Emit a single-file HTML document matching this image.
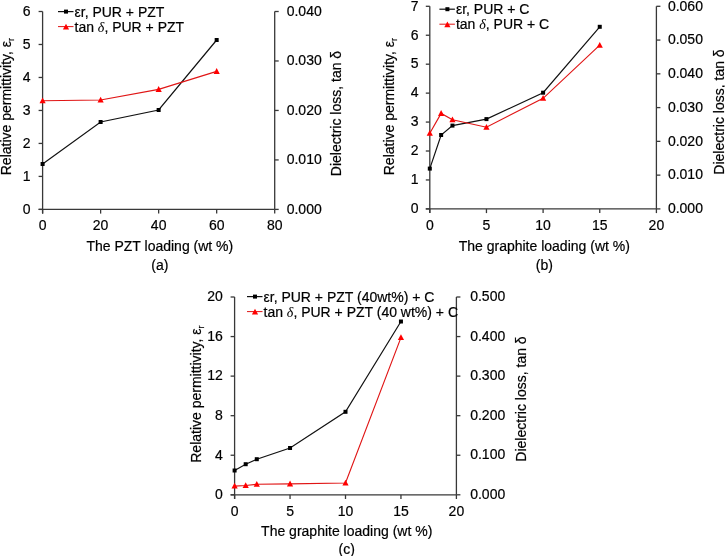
<!DOCTYPE html>
<html><head><meta charset="utf-8"><style>
html,body{margin:0;padding:0;background:#fff;}
svg{display:block;will-change:transform;}
text{font-family:"Liberation Sans", sans-serif;fill:#000;stroke:#000;stroke-width:0.2px;}
</style></head><body>
<svg width="725" height="556" viewBox="0 0 725 556">
<rect width="725" height="556" fill="#fff"/>
<line x1="42.60" y1="11.50" x2="42.60" y2="213.60" stroke="#383838" stroke-width="1.3"/>
<line x1="38.60" y1="209.40" x2="274.70" y2="209.40" stroke="#383838" stroke-width="1.3"/>
<line x1="274.70" y1="11.50" x2="274.70" y2="209.40" stroke="#383838" stroke-width="1.3"/>
<line x1="38.60" y1="209.40" x2="42.60" y2="209.40" stroke="#383838" stroke-width="1.3"/>
<text x="30.60" y="213.70" text-anchor="end" font-size="14" >0</text>
<line x1="38.60" y1="176.42" x2="42.60" y2="176.42" stroke="#383838" stroke-width="1.3"/>
<text x="30.60" y="180.72" text-anchor="end" font-size="14" >1</text>
<line x1="38.60" y1="143.43" x2="42.60" y2="143.43" stroke="#383838" stroke-width="1.3"/>
<text x="30.60" y="147.73" text-anchor="end" font-size="14" >2</text>
<line x1="38.60" y1="110.45" x2="42.60" y2="110.45" stroke="#383838" stroke-width="1.3"/>
<text x="30.60" y="114.75" text-anchor="end" font-size="14" >3</text>
<line x1="38.60" y1="77.47" x2="42.60" y2="77.47" stroke="#383838" stroke-width="1.3"/>
<text x="30.60" y="81.77" text-anchor="end" font-size="14" >4</text>
<line x1="38.60" y1="44.48" x2="42.60" y2="44.48" stroke="#383838" stroke-width="1.3"/>
<text x="30.60" y="48.78" text-anchor="end" font-size="14" >5</text>
<line x1="38.60" y1="11.50" x2="42.60" y2="11.50" stroke="#383838" stroke-width="1.3"/>
<text x="30.60" y="15.80" text-anchor="end" font-size="14" >6</text>
<line x1="274.70" y1="209.40" x2="278.70" y2="209.40" stroke="#383838" stroke-width="1.3"/>
<text x="286.70" y="213.60" text-anchor="start" font-size="14" >0.000</text>
<line x1="274.70" y1="159.93" x2="278.70" y2="159.93" stroke="#383838" stroke-width="1.3"/>
<text x="286.70" y="164.12" text-anchor="start" font-size="14" >0.010</text>
<line x1="274.70" y1="110.45" x2="278.70" y2="110.45" stroke="#383838" stroke-width="1.3"/>
<text x="286.70" y="114.65" text-anchor="start" font-size="14" >0.020</text>
<line x1="274.70" y1="60.97" x2="278.70" y2="60.97" stroke="#383838" stroke-width="1.3"/>
<text x="286.70" y="65.17" text-anchor="start" font-size="14" >0.030</text>
<line x1="274.70" y1="11.50" x2="278.70" y2="11.50" stroke="#383838" stroke-width="1.3"/>
<text x="286.70" y="15.70" text-anchor="start" font-size="14" >0.040</text>
<line x1="42.60" y1="209.40" x2="42.60" y2="213.60" stroke="#383838" stroke-width="1.3"/>
<text x="42.60" y="230.40" text-anchor="middle" font-size="14" >0</text>
<line x1="100.62" y1="209.40" x2="100.62" y2="213.60" stroke="#383838" stroke-width="1.3"/>
<text x="100.62" y="230.40" text-anchor="middle" font-size="14" >20</text>
<line x1="158.65" y1="209.40" x2="158.65" y2="213.60" stroke="#383838" stroke-width="1.3"/>
<text x="158.65" y="230.40" text-anchor="middle" font-size="14" >40</text>
<line x1="216.67" y1="209.40" x2="216.67" y2="213.60" stroke="#383838" stroke-width="1.3"/>
<text x="216.67" y="230.40" text-anchor="middle" font-size="14" >60</text>
<line x1="274.70" y1="209.40" x2="274.70" y2="213.60" stroke="#383838" stroke-width="1.3"/>
<text x="274.70" y="230.40" text-anchor="middle" font-size="14" >80</text>
<polyline points="42.60,164.00 100.62,122.00 158.65,110.00 216.67,40.00" fill="none" stroke="#111" stroke-width="1.2" stroke-linejoin="miter"/>
<polyline points="42.60,100.80 100.62,100.00 158.65,89.40 216.67,71.40" fill="none" stroke="#e01515" stroke-width="1.15" stroke-linejoin="miter"/>
<rect x="40.60" y="162.00" width="4" height="4" fill="#000"/>
<rect x="98.62" y="120.00" width="4" height="4" fill="#000"/>
<rect x="156.65" y="108.00" width="4" height="4" fill="#000"/>
<rect x="214.67" y="38.00" width="4" height="4" fill="#000"/>
<polygon points="42.60,97.50 45.70,103.30 39.50,103.30" fill="#ff0000"/>
<polygon points="100.62,96.70 103.72,102.50 97.53,102.50" fill="#ff0000"/>
<polygon points="158.65,86.10 161.75,91.90 155.55,91.90" fill="#ff0000"/>
<polygon points="216.67,68.10 219.77,73.90 213.57,73.90" fill="#ff0000"/>
<line x1="58.00" y1="11.60" x2="73.50" y2="11.60" stroke="#111" stroke-width="1.2"/>
<rect x="64.00" y="9.60" width="4" height="4" fill="#000"/>
<text x="74.50" y="16.60" text-anchor="start" font-size="14" >εr, PUR + PZT</text>
<line x1="58.00" y1="26.60" x2="73.50" y2="26.60" stroke="#e01515" stroke-width="1.0"/>
<polygon points="66.00,23.80 69.10,29.60 62.90,29.60" fill="#ff0000"/>
<text x="74.50" y="31.60" text-anchor="start" font-size="14" >tan <tspan font-family="Liberation Serif" font-style="italic" stroke-width="0.05">δ</tspan>, PUR + PZT</text>
<text transform="translate(11.10,106.50) rotate(-90)" text-anchor="middle" font-size="14">Relative permittivity, ε<tspan font-size="9.5" dy="3">r</tspan></text>
<text transform="translate(341.20,113.50) rotate(-90)" text-anchor="middle" font-size="14">Dielectric loss, tan δ</text>
<text x="159.85" y="250.50" text-anchor="middle" font-size="14" >The PZT loading (wt %)</text>
<text x="159.85" y="269.50" text-anchor="middle" font-size="14" >(a)</text>
<line x1="429.80" y1="6.30" x2="429.80" y2="213.10" stroke="#383838" stroke-width="1.3"/>
<line x1="425.80" y1="208.90" x2="656.40" y2="208.90" stroke="#383838" stroke-width="1.3"/>
<line x1="656.40" y1="6.30" x2="656.40" y2="208.90" stroke="#383838" stroke-width="1.3"/>
<line x1="425.80" y1="208.90" x2="429.80" y2="208.90" stroke="#383838" stroke-width="1.3"/>
<text x="418.60" y="213.20" text-anchor="end" font-size="14" >0</text>
<line x1="425.80" y1="179.96" x2="429.80" y2="179.96" stroke="#383838" stroke-width="1.3"/>
<text x="418.60" y="184.26" text-anchor="end" font-size="14" >1</text>
<line x1="425.80" y1="151.01" x2="429.80" y2="151.01" stroke="#383838" stroke-width="1.3"/>
<text x="418.60" y="155.31" text-anchor="end" font-size="14" >2</text>
<line x1="425.80" y1="122.07" x2="429.80" y2="122.07" stroke="#383838" stroke-width="1.3"/>
<text x="418.60" y="126.37" text-anchor="end" font-size="14" >3</text>
<line x1="425.80" y1="93.13" x2="429.80" y2="93.13" stroke="#383838" stroke-width="1.3"/>
<text x="418.60" y="97.43" text-anchor="end" font-size="14" >4</text>
<line x1="425.80" y1="64.19" x2="429.80" y2="64.19" stroke="#383838" stroke-width="1.3"/>
<text x="418.60" y="68.49" text-anchor="end" font-size="14" >5</text>
<line x1="425.80" y1="35.24" x2="429.80" y2="35.24" stroke="#383838" stroke-width="1.3"/>
<text x="418.60" y="39.54" text-anchor="end" font-size="14" >6</text>
<line x1="425.80" y1="6.30" x2="429.80" y2="6.30" stroke="#383838" stroke-width="1.3"/>
<text x="418.60" y="10.60" text-anchor="end" font-size="14" >7</text>
<line x1="656.40" y1="208.90" x2="660.40" y2="208.90" stroke="#383838" stroke-width="1.3"/>
<text x="667.90" y="213.10" text-anchor="start" font-size="14" >0.000</text>
<line x1="656.40" y1="175.13" x2="660.40" y2="175.13" stroke="#383838" stroke-width="1.3"/>
<text x="667.90" y="179.33" text-anchor="start" font-size="14" >0.010</text>
<line x1="656.40" y1="141.37" x2="660.40" y2="141.37" stroke="#383838" stroke-width="1.3"/>
<text x="667.90" y="145.57" text-anchor="start" font-size="14" >0.020</text>
<line x1="656.40" y1="107.60" x2="660.40" y2="107.60" stroke="#383838" stroke-width="1.3"/>
<text x="667.90" y="111.80" text-anchor="start" font-size="14" >0.030</text>
<line x1="656.40" y1="73.83" x2="660.40" y2="73.83" stroke="#383838" stroke-width="1.3"/>
<text x="667.90" y="78.03" text-anchor="start" font-size="14" >0.040</text>
<line x1="656.40" y1="40.07" x2="660.40" y2="40.07" stroke="#383838" stroke-width="1.3"/>
<text x="667.90" y="44.27" text-anchor="start" font-size="14" >0.050</text>
<line x1="656.40" y1="6.30" x2="660.40" y2="6.30" stroke="#383838" stroke-width="1.3"/>
<text x="667.90" y="10.50" text-anchor="start" font-size="14" >0.060</text>
<line x1="429.80" y1="208.90" x2="429.80" y2="213.10" stroke="#383838" stroke-width="1.3"/>
<text x="429.80" y="229.90" text-anchor="middle" font-size="14" >0</text>
<line x1="486.45" y1="208.90" x2="486.45" y2="213.10" stroke="#383838" stroke-width="1.3"/>
<text x="486.45" y="229.90" text-anchor="middle" font-size="14" >5</text>
<line x1="543.10" y1="208.90" x2="543.10" y2="213.10" stroke="#383838" stroke-width="1.3"/>
<text x="543.10" y="229.90" text-anchor="middle" font-size="14" >10</text>
<line x1="599.75" y1="208.90" x2="599.75" y2="213.10" stroke="#383838" stroke-width="1.3"/>
<text x="599.75" y="229.90" text-anchor="middle" font-size="14" >15</text>
<line x1="656.40" y1="208.90" x2="656.40" y2="213.10" stroke="#383838" stroke-width="1.3"/>
<text x="656.40" y="229.90" text-anchor="middle" font-size="14" >20</text>
<polyline points="429.80,168.60 441.13,135.00 452.46,125.60 486.45,119.10 543.10,92.70 599.75,26.80" fill="none" stroke="#111" stroke-width="1.2" stroke-linejoin="miter"/>
<polyline points="429.80,133.20 441.13,113.40 452.46,119.70 486.45,127.20 543.10,98.30 599.75,45.20" fill="none" stroke="#e01515" stroke-width="1.15" stroke-linejoin="miter"/>
<rect x="427.80" y="166.60" width="4" height="4" fill="#000"/>
<rect x="439.13" y="133.00" width="4" height="4" fill="#000"/>
<rect x="450.46" y="123.60" width="4" height="4" fill="#000"/>
<rect x="484.45" y="117.10" width="4" height="4" fill="#000"/>
<rect x="541.10" y="90.70" width="4" height="4" fill="#000"/>
<rect x="597.75" y="24.80" width="4" height="4" fill="#000"/>
<polygon points="429.80,129.90 432.90,135.70 426.70,135.70" fill="#ff0000"/>
<polygon points="441.13,110.10 444.23,115.90 438.03,115.90" fill="#ff0000"/>
<polygon points="452.46,116.40 455.56,122.20 449.36,122.20" fill="#ff0000"/>
<polygon points="486.45,123.90 489.55,129.70 483.35,129.70" fill="#ff0000"/>
<polygon points="543.10,95.00 546.20,100.80 540.00,100.80" fill="#ff0000"/>
<polygon points="599.75,41.90 602.85,47.70 596.65,47.70" fill="#ff0000"/>
<line x1="439.40" y1="9.20" x2="454.90" y2="9.20" stroke="#111" stroke-width="1.2"/>
<rect x="445.40" y="7.20" width="4" height="4" fill="#000"/>
<text x="455.90" y="14.20" text-anchor="start" font-size="14" >εr, PUR + C</text>
<line x1="439.40" y1="24.20" x2="454.90" y2="24.20" stroke="#e01515" stroke-width="1.0"/>
<polygon points="447.40,21.40 450.50,27.20 444.30,27.20" fill="#ff0000"/>
<text x="455.90" y="29.20" text-anchor="start" font-size="14" >tan <tspan font-family="Liberation Serif" font-style="italic" stroke-width="0.05">δ</tspan>, PUR + C</text>
<text transform="translate(394.00,106.50) rotate(-90)" text-anchor="middle" font-size="14">Relative permittivity, ε<tspan font-size="9.5" dy="3">r</tspan></text>
<text transform="translate(723.50,112.00) rotate(-90)" text-anchor="middle" font-size="14">Dielectric loss, tan δ</text>
<text x="544.30" y="250.50" text-anchor="middle" font-size="14" >The graphite loading (wt %)</text>
<text x="544.30" y="269.50" text-anchor="middle" font-size="14" >(b)</text>
<line x1="234.60" y1="297.00" x2="234.60" y2="499.00" stroke="#383838" stroke-width="1.3"/>
<line x1="230.60" y1="494.80" x2="456.40" y2="494.80" stroke="#383838" stroke-width="1.3"/>
<line x1="456.40" y1="297.00" x2="456.40" y2="494.80" stroke="#383838" stroke-width="1.3"/>
<line x1="230.60" y1="494.80" x2="234.60" y2="494.80" stroke="#383838" stroke-width="1.3"/>
<text x="222.80" y="499.10" text-anchor="end" font-size="14" >0</text>
<line x1="230.60" y1="455.24" x2="234.60" y2="455.24" stroke="#383838" stroke-width="1.3"/>
<text x="222.80" y="459.54" text-anchor="end" font-size="14" >4</text>
<line x1="230.60" y1="415.68" x2="234.60" y2="415.68" stroke="#383838" stroke-width="1.3"/>
<text x="222.80" y="419.98" text-anchor="end" font-size="14" >8</text>
<line x1="230.60" y1="376.12" x2="234.60" y2="376.12" stroke="#383838" stroke-width="1.3"/>
<text x="222.80" y="380.42" text-anchor="end" font-size="14" >12</text>
<line x1="230.60" y1="336.56" x2="234.60" y2="336.56" stroke="#383838" stroke-width="1.3"/>
<text x="222.80" y="340.86" text-anchor="end" font-size="14" >16</text>
<line x1="230.60" y1="297.00" x2="234.60" y2="297.00" stroke="#383838" stroke-width="1.3"/>
<text x="222.80" y="301.30" text-anchor="end" font-size="14" >20</text>
<line x1="456.40" y1="494.80" x2="460.40" y2="494.80" stroke="#383838" stroke-width="1.3"/>
<text x="470.20" y="499.00" text-anchor="start" font-size="14" >0.000</text>
<line x1="456.40" y1="455.24" x2="460.40" y2="455.24" stroke="#383838" stroke-width="1.3"/>
<text x="470.20" y="459.44" text-anchor="start" font-size="14" >0.100</text>
<line x1="456.40" y1="415.68" x2="460.40" y2="415.68" stroke="#383838" stroke-width="1.3"/>
<text x="470.20" y="419.88" text-anchor="start" font-size="14" >0.200</text>
<line x1="456.40" y1="376.12" x2="460.40" y2="376.12" stroke="#383838" stroke-width="1.3"/>
<text x="470.20" y="380.32" text-anchor="start" font-size="14" >0.300</text>
<line x1="456.40" y1="336.56" x2="460.40" y2="336.56" stroke="#383838" stroke-width="1.3"/>
<text x="470.20" y="340.76" text-anchor="start" font-size="14" >0.400</text>
<line x1="456.40" y1="297.00" x2="460.40" y2="297.00" stroke="#383838" stroke-width="1.3"/>
<text x="470.20" y="301.20" text-anchor="start" font-size="14" >0.500</text>
<line x1="234.60" y1="494.80" x2="234.60" y2="499.00" stroke="#383838" stroke-width="1.3"/>
<text x="234.60" y="515.80" text-anchor="middle" font-size="14" >0</text>
<line x1="290.05" y1="494.80" x2="290.05" y2="499.00" stroke="#383838" stroke-width="1.3"/>
<text x="290.05" y="515.80" text-anchor="middle" font-size="14" >5</text>
<line x1="345.50" y1="494.80" x2="345.50" y2="499.00" stroke="#383838" stroke-width="1.3"/>
<text x="345.50" y="515.80" text-anchor="middle" font-size="14" >10</text>
<line x1="400.95" y1="494.80" x2="400.95" y2="499.00" stroke="#383838" stroke-width="1.3"/>
<text x="400.95" y="515.80" text-anchor="middle" font-size="14" >15</text>
<line x1="456.40" y1="494.80" x2="456.40" y2="499.00" stroke="#383838" stroke-width="1.3"/>
<text x="456.40" y="515.80" text-anchor="middle" font-size="14" >20</text>
<polyline points="234.60,470.50 245.69,464.20 256.78,459.20 290.05,448.00 345.50,411.80 400.95,321.50" fill="none" stroke="#111" stroke-width="1.2" stroke-linejoin="miter"/>
<polyline points="234.60,486.10 245.69,485.50 256.78,484.30 290.05,483.90 345.50,483.00 400.95,337.60" fill="none" stroke="#e01515" stroke-width="1.15" stroke-linejoin="miter"/>
<rect x="232.60" y="468.50" width="4" height="4" fill="#000"/>
<rect x="243.69" y="462.20" width="4" height="4" fill="#000"/>
<rect x="254.78" y="457.20" width="4" height="4" fill="#000"/>
<rect x="288.05" y="446.00" width="4" height="4" fill="#000"/>
<rect x="343.50" y="409.80" width="4" height="4" fill="#000"/>
<rect x="398.95" y="319.50" width="4" height="4" fill="#000"/>
<polygon points="234.60,482.80 237.70,488.60 231.50,488.60" fill="#ff0000"/>
<polygon points="245.69,482.20 248.79,488.00 242.59,488.00" fill="#ff0000"/>
<polygon points="256.78,481.00 259.88,486.80 253.68,486.80" fill="#ff0000"/>
<polygon points="290.05,480.60 293.15,486.40 286.95,486.40" fill="#ff0000"/>
<polygon points="345.50,479.70 348.60,485.50 342.40,485.50" fill="#ff0000"/>
<polygon points="400.95,334.30 404.05,340.10 397.85,340.10" fill="#ff0000"/>
<line x1="247.00" y1="296.60" x2="262.50" y2="296.60" stroke="#111" stroke-width="1.2"/>
<rect x="253.00" y="294.60" width="4" height="4" fill="#000"/>
<text x="263.50" y="301.60" text-anchor="start" font-size="14" >εr, PUR + PZT (40wt%) + C</text>
<line x1="247.00" y1="311.60" x2="262.50" y2="311.60" stroke="#e01515" stroke-width="1.0"/>
<polygon points="255.00,308.80 258.10,314.60 251.90,314.60" fill="#ff0000"/>
<text x="263.50" y="316.60" text-anchor="start" font-size="14" >tan <tspan font-family="Liberation Serif" font-style="italic" stroke-width="0.05">δ</tspan>, PUR + PZT (40 wt%) + C</text>
<text transform="translate(200.60,394.00) rotate(-90)" text-anchor="middle" font-size="14">Relative permittivity, ε<tspan font-size="9.5" dy="3">r</tspan></text>
<text transform="translate(526.00,399.00) rotate(-90)" text-anchor="middle" font-size="14">Dielectric loss, tan δ</text>
<text x="346.70" y="535.50" text-anchor="middle" font-size="14" >The graphite loading (wt %)</text>
<text x="346.70" y="554.00" text-anchor="middle" font-size="14" >(c)</text>
</svg></body></html>
